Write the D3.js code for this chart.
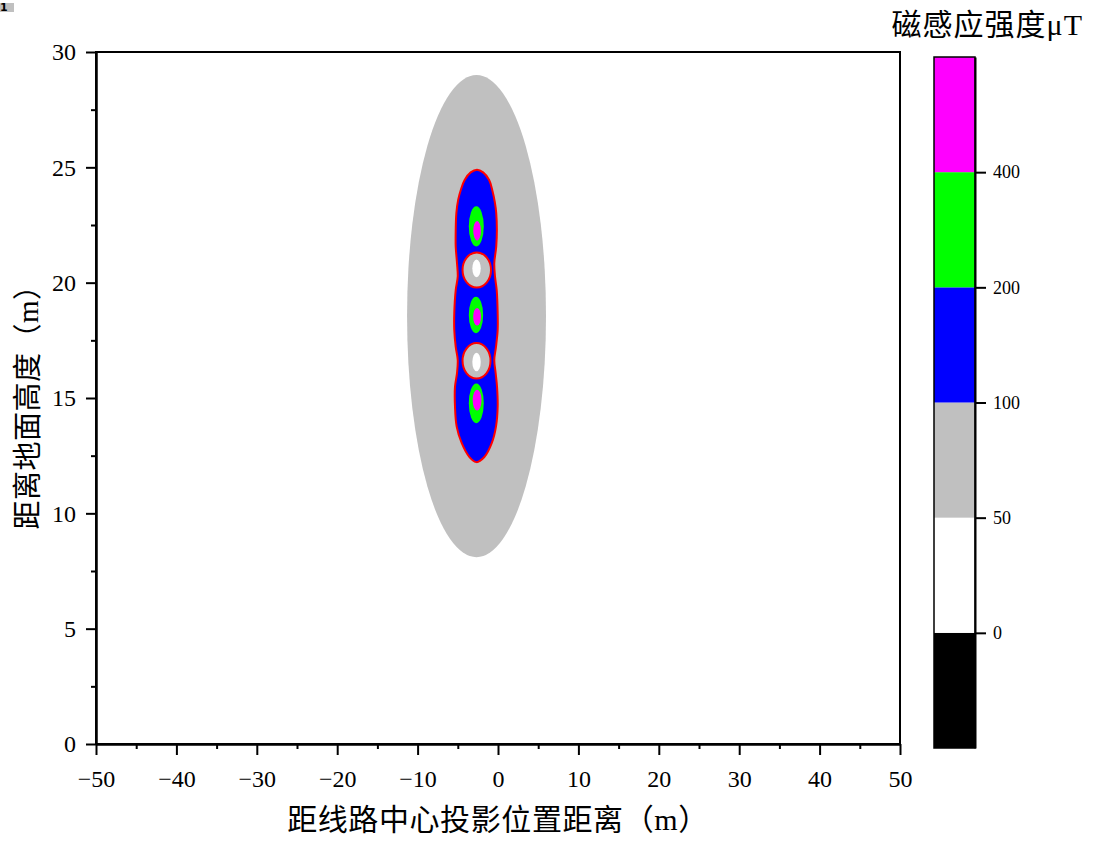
<!DOCTYPE html>
<html><head><meta charset="utf-8">
<script src="https://cdn.jsdelivr.net/npm/d3@7"></script>
<style>body{margin:0;background:#fff}</style>
</head><body>
<svg id="c" width="1095" height="841"></svg>
<script>
// ---- data ----
const xTicks = [-50,-40,-30,-20,-10,0,10,20,30,40,50];
const xMinor = [-45,-35,-25,-15,-5,5,15,25,35,45];
const yTicks = [0,5,10,15,20,25,30];
const yMinor = [2.5,7.5,12.5,17.5,22.5,27.5];
const levels = [0,50,100,200,400];
const levelColors = ["#000000","#ffffff","#c0c0c0","#0000ff","#00ff00","#ff00ff"];
// 50 µT zone (gray), ellipse centre / radii in metres
const zone50 = [{x:-2.67, y:18.55, rx:8.64, ry:10.45}];
// 100 µT contour (blue region, red outline)
const contour100 = [
[-2.61,24.90],[-1.85,24.78],[-1.10,24.45],[-0.70,24.00],[-0.40,23.50],[-0.22,23.02],[-0.14,22.28],[-0.22,21.56],[-0.46,20.85],[-0.37,20.26],[-0.16,19.68],[-0.04,18.68],[-0.04,17.95],[-0.25,17.22],[-0.46,16.65],[-0.29,16.08],[-0.12,15.49],[-0.04,14.62],[-0.25,13.76],[-0.78,13.04],[-1.70,12.44],[-2.67,12.22],[-3.55,12.44],[-4.51,13.04],[-5.14,13.76],[-5.35,14.62],[-5.35,15.49],[-5.10,16.08],[-5.01,16.65],[-5.26,17.22],[-5.44,17.95],[-5.44,18.68],[-5.26,19.68],[-5.01,20.26],[-5.10,20.85],[-5.26,21.56],[-5.26,22.28],[-5.18,23.02],[-4.95,23.60],[-4.60,24.05],[-4.15,24.45],[-3.40,24.78]
];
// regions below 100 µT inside the blue zone (gray, red outline)
const holes100 = [{x:-2.64, y:20.55, rx:1.77, ry:0.76},{x:-2.67, y:16.61, rx:1.74, ry:0.77}];
// regions below 50 µT (white)
const lows50 = [{x:-2.67, y:20.62, rx:0.52, ry:0.38},{x:-2.67, y:16.56, rx:0.52, ry:0.40}];
// 200 µT zones (green)
const zone200 = [{x:-2.70, y:22.44, rx:0.93, ry:0.87},{x:-2.74, y:18.60, rx:0.89, ry:0.79},{x:-2.70, y:14.77, rx:0.93, ry:0.86}];
// 400 µT zones (magenta)
const zone400 = [{x:-2.60, y:22.25, rx:0.48, ry:0.42},{x:-2.60, y:18.52, rx:0.49, ry:0.38},{x:-2.60, y:14.91, rx:0.55, ry:0.45}];

const xTitle = "距线路中心投影位置距离（m）";
const yTitle = "距离地面高度（m）";
const cbTitle = "磁感应强度μT";

// ---- drawing ----
const svg = d3.select("#c");
const serif = "'Liberation Serif','Noto Sans CJK SC',serif";
svg.append("rect").attr("width",1095).attr("height",841).attr("fill","#fff");

// small artifact at top-left
svg.append("rect").attr("x",0).attr("y",3).attr("width",14).attr("height",9).attr("fill","#c0c0c0");
svg.append("text").attr("x",0).attr("y",11).attr("font-size",11).attr("font-weight","bold")
  .attr("font-family","'DejaVu Sans'").attr("fill","#000").text("1");

const x = d3.scaleLinear([-50,50],[96,900]);
const y = d3.scaleLinear([0,30],[744,52]);

svg.append("clipPath").attr("id","clip").append("rect")
  .attr("x",96).attr("y",52).attr("width",804).attr("height",692);
const plot = svg.append("g").attr("clip-path","url(#clip)");

function ell(sel, data, fill, stroke){
  sel.selectAll(null).data(data).join("ellipse")
    .attr("cx",d=>x(d.x)).attr("cy",d=>y(d.y))
    .attr("rx",d=>x(d.x+d.rx)-x(d.x)).attr("ry",d=>y(d.y-d.ry)-y(d.y))
    .attr("fill",fill).attr("stroke",stroke||"none").attr("stroke-width",2);
}
ell(plot, zone50, levelColors[2]);
const line = d3.line().x(d=>x(d[0])).y(d=>y(d[1])).curve(d3.curveCatmullRomClosed);
plot.append("path").datum(contour100).attr("d",line)
  .attr("fill",levelColors[3]).attr("stroke","#ff0000").attr("stroke-width",2);
ell(plot, holes100, levelColors[2], "#ff0000");
ell(plot, lows50, levelColors[1]);
ell(plot, zone200, levelColors[4]);
ell(plot, zone400, levelColors[5]);

// frame
svg.append("rect").attr("x",96).attr("y",52).attr("width",804).attr("height",692)
  .attr("fill","none").attr("stroke","#000").attr("stroke-width",2);

function styleAxis(g, fs){
  g.selectAll("path,line").attr("stroke","#000").attr("stroke-width",2);
  g.selectAll("text").attr("font-family",serif).attr("font-size",fs).attr("fill","#000");
}
// x axis
const gx = svg.append("g").attr("transform","translate(0,744)")
  .call(d3.axisBottom(x).tickValues(xTicks).tickSize(11).tickSizeOuter(0).tickFormat(d=>d<0?"−"+Math.abs(d):d));
gx.selectAll("text").attr("y",43).attr("dy",null);
styleAxis(gx,24);
const gxm = svg.append("g").attr("transform","translate(0,744)")
  .call(d3.axisBottom(x).tickValues(xMinor).tickSize(5).tickSizeOuter(0).tickFormat(""));
styleAxis(gxm,24);
// y axis
const gy = svg.append("g").attr("transform","translate(96,0)")
  .call(d3.axisLeft(y).tickValues(yTicks).tickSize(10).tickSizeOuter(0).tickPadding(10));
styleAxis(gy,24);
const gym = svg.append("g").attr("transform","translate(96,0)")
  .call(d3.axisLeft(y).tickValues(yMinor).tickSize(5).tickSizeOuter(0).tickFormat(""));
styleAxis(gym,24);

// axis titles
svg.append("text").attr("x",498).attr("y",830).attr("text-anchor","middle")
  .attr("font-family",serif).attr("font-size",30).attr("letter-spacing",0.6).text(xTitle);
svg.append("text").attr("transform","translate(38,400) rotate(-90)").attr("text-anchor","middle")
  .attr("font-family",serif).attr("font-size",29).attr("letter-spacing",0.5).text(yTitle);

// colour bar
const cb = d3.scaleLinear([0,levelColors.length],[748,57]);
svg.append("g").selectAll("rect").data(levelColors).join("rect")
  .attr("x",934).attr("width",41)
  .attr("y",(d,i)=>cb(i+1)).attr("height",(d,i)=>cb(i)-cb(i+1))
  .attr("fill",d=>d);
svg.append("rect").attr("x",934).attr("y",57).attr("width",41).attr("height",691)
  .attr("fill","none").attr("stroke","#000").attr("stroke-width",1.5);
const gc = svg.append("g").attr("transform","translate(975,0)")
  .call(d3.axisRight(cb).tickValues(levels.map((d,i)=>i+1)).tickSize(11).tickSizeOuter(0).tickPadding(7)
    .tickFormat(i=>levels[i-1]));
styleAxis(gc,18);
svg.append("text").attr("x",1083).attr("y",35).attr("text-anchor","end")
  .attr("font-family",serif).attr("font-size",30).attr("letter-spacing",1).text(cbTitle);
</script>
</body></html>
